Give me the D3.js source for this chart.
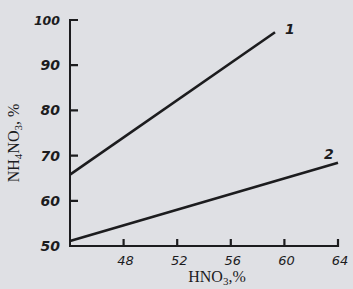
<!DOCTYPE html>
<html>
<head>
<meta charset="utf-8">
<script src="https://cdn.jsdelivr.net/npm/d3@7"></script>
<style>
  body { margin: 0; background: #dfe0e4; }
  svg { display: block; }
</style>
</head>
<body>
<div id="chart"></div>
<script>
// Data
const xTicks = [48, 52, 56, 60, 64];
const yTicks = [50, 60, 70, 80, 90, 100];
const curve1 = [[44, 65.8], [59.3, 97.3]];
const curve2 = [[44, 51.1], [64, 68.4]];
const curveLabels = ["1", "2"];

const W = 353, H = 289;
const margin = { top: 20, right: 15, bottom: 43, left: 70 };

const svg = d3.select("#chart").append("svg")
    .attr("width", W).attr("height", H);

const x = d3.scaleLinear().domain([44, 64]).range([margin.left, W - margin.right]);
const y = d3.scaleLinear().domain([50, 100]).range([H - margin.bottom, margin.top]);

const ink = "#1c1c1e";

// Axis lines
svg.append("path")
    .attr("d", "M" + x(44) + "," + y(100) + "V" + y(50) + "H" + x(64))
    .attr("fill", "none").attr("stroke", ink).attr("stroke-width", 2);

// Ticks pointing inward, drawn as one path per axis
const xTickPath = xTicks.map(t => "M" + x(t) + "," + (y(50) + 1) + "v-8").join("");
const yTickPath = yTicks.slice(1).map(t => "M" + (x(44) - 1) + "," + y(t) + "h9").join("");
svg.append("path").attr("d", xTickPath + yTickPath)
    .attr("fill", "none").attr("stroke", ink).attr("stroke-width", 2.2);

// Tick labels
svg.selectAll(".xl").data(xTicks).enter().append("text")
    .attr("x", d => x(d) + 2).attr("y", y(50) + 19)
    .attr("text-anchor", "middle")
    .attr("font-family", "DejaVu Sans")
    .attr("font-style", "italic").attr("font-size", 13)
    .attr("fill", ink).text(d => d);

svg.selectAll(".yl").data(yTicks).enter().append("text")
    .attr("x", x(44) - 10).attr("y", d => y(d) + 5)
    .attr("text-anchor", "end")
    .attr("font-family", "DejaVu Sans")
    .attr("font-style", "italic").attr("font-weight", "bold")
    .attr("font-size", d => d === 100 ? 12.5 : 14)
    .attr("fill", ink).text(d => d);

// Axis titles
const xTitle = svg.append("text")
    .attr("x", 217).attr("y", 282)
    .attr("text-anchor", "middle")
    .attr("font-family", "Liberation Serif")
    .attr("font-size", 16).attr("fill", ink);
xTitle.append("tspan").text("HNO");
xTitle.append("tspan").attr("font-size", 11).attr("dy", 3).text("3");
xTitle.append("tspan").attr("dy", -3).text(",%");

const yTitle = svg.append("text")
    .attr("transform", "translate(19,143) rotate(-90)")
    .attr("text-anchor", "middle")
    .attr("font-family", "Liberation Serif")
    .attr("font-size", 16).attr("fill", ink);
yTitle.append("tspan").text("NH");
yTitle.append("tspan").attr("font-size", 11).attr("dy", 3).text("4");
yTitle.append("tspan").attr("dy", -3).text("NO");
yTitle.append("tspan").attr("font-size", 11).attr("dy", 3).text("3");
yTitle.append("tspan").attr("dy", -3).text(", %");

// Curves
const line = d3.line().x(d => x(d[0])).y(d => y(d[1]));
[curve1, curve2].forEach((c, i) => {
    svg.append("path").datum(c)
        .attr("d", line)
        .attr("fill", "none").attr("stroke", ink)
        .attr("stroke-width", 2.6);
    const last = c[c.length - 1];
    svg.append("text")
        .attr("x", x(last[0]) + (i === 0 ? 10 : -14))
        .attr("y", y(last[1]) + (i === 0 ? 2 : -4))
        .attr("font-family", "DejaVu Sans")
        .attr("font-style", "italic").attr("font-weight", "bold")
        .attr("font-size", 14).attr("fill", ink)
        .text(curveLabels[i]);
});
</script>
</body>
</html>
